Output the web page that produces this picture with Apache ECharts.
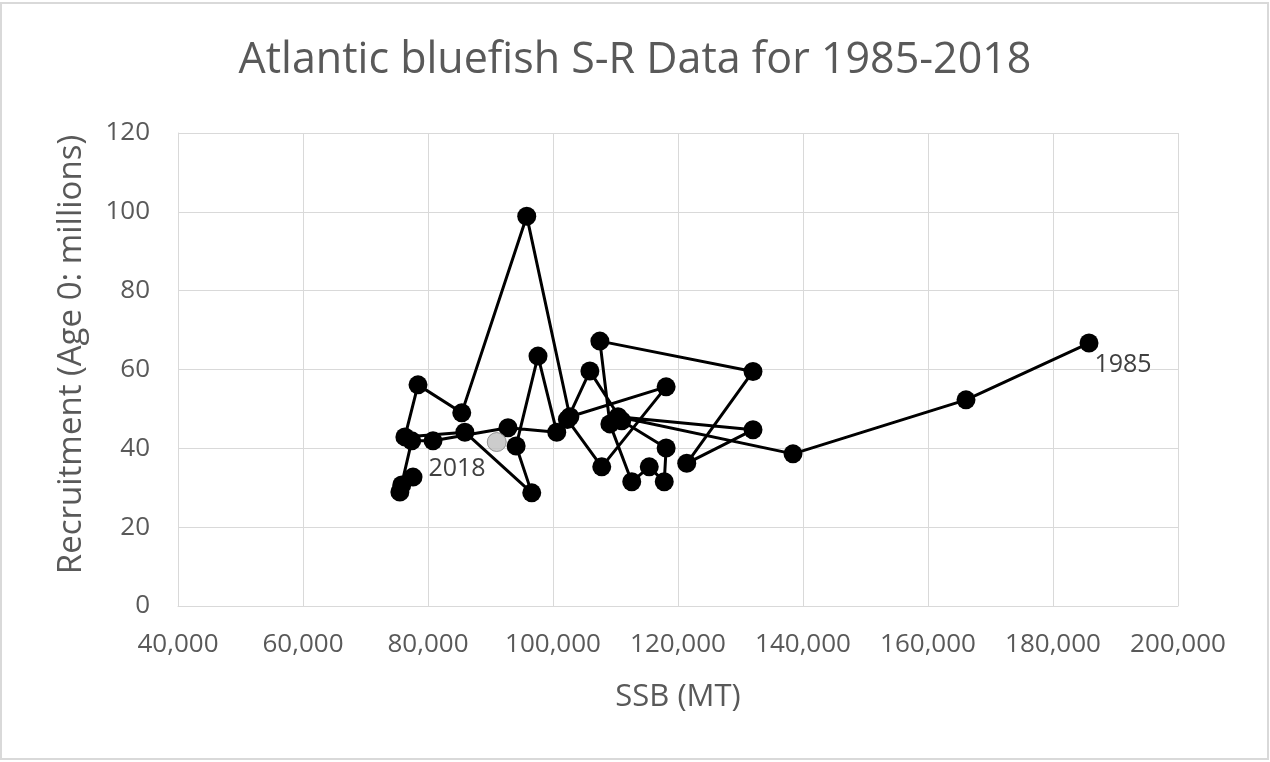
<!DOCTYPE html>
<html>
<head>
<meta charset="utf-8">
<title>Atlantic bluefish S-R</title>
<script src="https://cdn.jsdelivr.net/npm/echarts@6/dist/echarts.min.js"></script>
<style>
  html, body { margin: 0; padding: 0; background: #fff; }
  #chart { width: 1270px; height: 762px; }
</style>
</head>
<body>
<div id="chart"></div>
<script>
// years of the stock-recruit series, in plotting order
const years = [
  1985, 1986, 1987, 1988, 1989, 1990, 1991, 1992, 1993, 1994,
  1995, 1996, 1997, 1998, 1999, 2000, 2001, 2002, 2003, 2004,
  2005, 2006, 2007, 2008, 2009, 2010, 2011, 2012, 2013, 2014,
  2015, 2016, 2017, 2018
];
// spawning stock biomass (MT)
const ssb = [
  185760, 166080, 138400, 110400, 132000, 121400, 132000, 107500, 109100, 112600,
  115400, 117800, 118100, 111000, 105900, 102300, 107800, 118100, 102700, 95800,
  85400, 78400, 76300, 85900, 96600, 94100, 97600, 100600, 92800, 80800,
  77400, 75500, 75800, 77600
];
// recruitment (age 0, millions)
const recruits = [
  66.7, 52.3, 38.6, 48.0, 44.7, 36.2, 59.5, 67.2, 46.2, 31.5,
  35.3, 31.5, 40.1, 47.0, 59.6, 47.3, 35.3, 55.6, 48.0, 98.9,
  49.0, 56.1, 42.9, 44.1, 28.7, 40.6, 63.4, 44.1, 45.2, 41.9,
  41.9, 28.9, 30.7, 32.7
];
// highlighted point (grey marker)
const greyPoint = [91000, 41.6];

const labelYears = { 1985: [34, 22], 2018: [44, -8] };

const FONT = "'Open Sans', 'Noto Sans', sans-serif";
const TEXT_GREY = "#595959";

const chart = echarts.init(document.getElementById("chart"), null, { renderer: "canvas" });

const srData = years.map((yr, i) => {
  const point = { value: [ssb[i], recruits[i]] };
  if (labelYears[yr]) {
    point.label = {
      show: true,
      formatter: String(yr),
      position: "inside",
      offset: labelYears[yr],
      color: "#404040",
      fontSize: 25,
      fontFamily: FONT
    };
  }
  return point;
});

const option = {
  animation: false,
  backgroundColor: "#fff",
  graphic: [
    {
      type: "rect",
      shape: { x: 1, y: 3, width: 1267, height: 756 },
      style: { fill: null, stroke: "#d9d9d9", lineWidth: 2 },
      silent: true
    }
  ],
  title: {
    text: "Atlantic bluefish S-R Data for 1985-2018",
    left: "center",
    top: 34,
    textStyle: { color: TEXT_GREY, fontSize: 43, fontWeight: "normal", fontFamily: FONT }
  },
  grid: { left: 178, right: 92, top: 133, bottom: 156 },
  xAxis: {
    type: "value",
    min: 40000,
    max: 200000,
    interval: 20000,
    name: "SSB (MT)",
    nameLocation: "middle",
    nameGap: 76,
    nameTextStyle: { color: TEXT_GREY, fontSize: 31, fontFamily: FONT },
    axisLine: { show: true, lineStyle: { color: "#d9d9d9", width: 1 } },
    axisTick: { show: false },
    axisLabel: {
      color: TEXT_GREY,
      fontSize: 26,
      fontFamily: FONT,
      margin: 26,
      formatter: (v) => v.toLocaleString("en-US")
    },
    splitLine: { show: true, lineStyle: { color: "#d9d9d9", width: 1 } }
  },
  yAxis: {
    type: "value",
    min: 0,
    max: 120,
    interval: 20,
    name: "Recruitment (Age 0: millions)",
    nameLocation: "middle",
    nameGap: 90,
    nameRotate: 90,
    nameTextStyle: { color: TEXT_GREY, fontSize: 33, fontFamily: FONT, padding: [0, 0, 0, 30] },
    axisLine: { show: true, lineStyle: { color: "#d9d9d9", width: 1 } },
    axisTick: { show: false },
    axisLabel: { color: TEXT_GREY, fontSize: 26, fontFamily: FONT, margin: 28 },
    splitLine: { show: true, lineStyle: { color: "#d9d9d9", width: 1 } }
  },
  series: [
    {
      name: "S-R",
      type: "line",
      data: srData,
      symbol: "circle",
      symbolSize: 19,
      showAllSymbol: true,
      lineStyle: { color: "#000", width: 3 },
      itemStyle: { color: "#000" },
      z: 2
    },
    {
      name: "highlight",
      type: "scatter",
      data: [greyPoint],
      symbol: "circle",
      symbolSize: 19,
      itemStyle: { color: "#bfbfbf", borderColor: "#808080", borderWidth: 1 },
      z: 3
    }
  ]
};

chart.setOption(option);
</script>
</body>
</html>
